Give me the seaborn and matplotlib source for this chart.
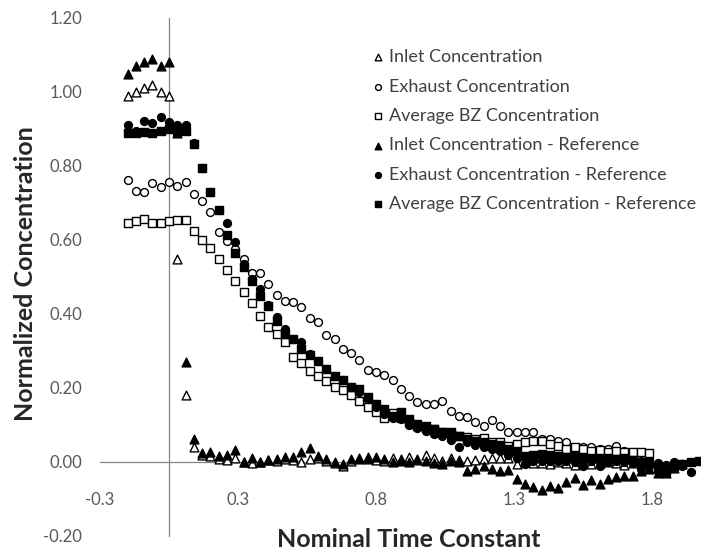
import numpy as np
import matplotlib
matplotlib.use("Agg")
import matplotlib.pyplot as plt
import seaborn as sns

# nominal time constant grid (one sample every 0.03)
time = np.round(-0.15 + 0.03 * np.arange(70), 2)

inlet = [0.99, 1.00, 1.01, 1.02, 1.00, 0.99, 0.55, 0.18,
         0.04, 0.02, 0.015, 0.008, 0.006, 0.01, 0.0, -0.002, 0.0, 0.006,
         0.004, 0.008, 0.005, 0.001, 0.008, 0.01, 0.004, -0.003, -0.012, 0.004,
         0.01, 0.014, 0.006, 0.004, 0.012, 0.008, 0.014, 0.006, 0.018, 0.012,
         0.004, 0.01, 0.006, 0.002, 0.005, 0.008, 0.012, 0.012, 0.012, -0.006,
         0.0, -0.004, -0.002, -0.006, 0.0, -0.004, -0.008, -0.002, -0.006, -0.004,
         0.0, -0.002, -0.008, -0.004, 0.004, 0.006]

exhaust = [0.763, 0.733, 0.731, 0.754, 0.742, 0.758, 0.745, 0.756,
           0.724, 0.705, 0.676, 0.622, 0.597, 0.575, 0.548, 0.511, 0.511, 0.48,
           0.452, 0.434, 0.433, 0.418, 0.388, 0.379, 0.343, 0.332, 0.305, 0.294,
           0.277, 0.25, 0.242, 0.235, 0.222, 0.197, 0.179, 0.161, 0.158, 0.158,
           0.166, 0.139, 0.125, 0.121, 0.109, 0.098, 0.114, 0.098, 0.082, 0.082,
           0.082, 0.082, 0.062, 0.061, 0.058, 0.053, 0.035, 0.04, 0.041, 0.035,
           0.035, 0.044, 0.031, 0.026, 0.023]

avg_bz = [0.645, 0.652, 0.657, 0.646, 0.646, 0.652, 0.655, 0.655,
          0.623, 0.600, 0.578, 0.549, 0.520, 0.488, 0.459, 0.430, 0.394, 0.364,
          0.346, 0.324, 0.284, 0.268, 0.247, 0.233, 0.220, 0.202, 0.195, 0.180,
          0.166, 0.150, 0.134, 0.120, 0.132, 0.120, 0.107, 0.098, 0.092, 0.088,
          0.080, 0.076, 0.071, 0.068, 0.062, 0.064, 0.055, 0.055, 0.044, 0.049,
          0.055, 0.058, 0.058, 0.050, 0.044, 0.035, 0.040, 0.035, 0.030, 0.032,
          0.028, 0.030, 0.028, 0.026, 0.026, 0.024]

inlet_ref = [1.05, 1.07, 1.08, 1.09, 1.07, 1.08, 0.89, 0.27,
             0.062, 0.024, 0.028, 0.017, 0.02, 0.033, 0.001, 0.01, 0.0, 0.006,
             0.007, 0.013, 0.013, 0.026, 0.037, 0.015, 0.007, 0.001, -0.005, 0.007,
             0.007, 0.007, 0.013, 0.007, 0.0, 0.003, 0.0, 0.008, 0.004, -0.002,
             -0.005, 0.004, 0.0, -0.023, -0.019, -0.01, -0.019, -0.023, -0.021, -0.046,
             -0.059, -0.068, -0.077, -0.064, -0.071, -0.055, -0.044, -0.062, -0.048, -0.059,
             -0.046, -0.041, -0.039, -0.039, -0.023, -0.02, -0.03, -0.03, -0.015, -0.005]

exhaust_ref = [0.911, 0.895, 0.922, 0.916, 0.932, 0.918, 0.911, 0.91,
               0.862, 0.794, 0.731, 0.682, 0.646, 0.594, 0.535, 0.495, 0.468, 0.423,
               0.392, 0.359, 0.332, 0.324, 0.292, 0.274, 0.251, 0.233, 0.222, 0.202,
               0.19, 0.17, 0.15, 0.13, 0.12, 0.115, 0.1, 0.092, 0.085, 0.075,
               0.07, 0.06, 0.04, 0.055, 0.045, 0.04, 0.035, 0.03, 0.02, 0.01,
               -0.005, 0.002, 0.003, 0.003, 0.004, 0.002, 0.0, -0.012, 0.004, -0.012,
               0.0, 0.002, 0.0, -0.002, -0.019, -0.012, -0.004, -0.008, 0.0, -0.01,
               -0.028]

avg_bz_ref = [0.89, 0.89, 0.893, 0.89, 0.895, 0.90, 0.895, 0.895,
              0.86, 0.795, 0.73, 0.68, 0.614, 0.565, 0.526, 0.49, 0.45, 0.422,
              0.38, 0.346, 0.332, 0.305, 0.289, 0.274, 0.251, 0.233, 0.222, 0.202,
              0.197, 0.175, 0.157, 0.143, 0.125, 0.134, 0.116, 0.103, 0.098, 0.089,
              0.08, 0.08, 0.071, 0.063, 0.058, 0.054, 0.049, 0.045, 0.035, 0.031,
              0.017, 0.02, 0.022, 0.02, 0.017, 0.013, 0.015, 0.012, 0.01, 0.008,
              0.01, 0.008, 0.012, 0.005, 0.0, 0.0, -0.019, -0.025, -0.01, -0.005,
              0.0, 0.002]

xtick_pos = [-0.25, 0.25, 0.75, 1.25, 1.75]
xtick_labels = ["-0.3", "0.3", "0.8", "1.3", "1.8"]
ytick_pos = [-0.2, 0.0, 0.2, 0.4, 0.6, 0.8, 1.0, 1.2]

sns.set_style("white")
plt.rcParams["font.family"] = ["Lato", "DejaVu Sans"]

fig = plt.figure(figsize=(7.01, 5.50), dpi=100)
ax = fig.add_axes([100 / 701, 14 / 550, 601 / 701, 518 / 550])

series = [
    ("Inlet Concentration", inlet, "^", "white", 40),
    ("Exhaust Concentration", exhaust, "o", "white", 32),
    ("Average BZ Concentration", avg_bz, "s", "white", 30),
    ("Inlet Concentration - Reference", inlet_ref, "^", "black", 40),
    ("Exhaust Concentration - Reference", exhaust_ref, "o", "black", 32),
    ("Average BZ Concentration - Reference", avg_bz_ref, "s", "black", 30),
]
for name, vals, mk, face, size in series:
    sns.scatterplot(x=time[:len(vals)], y=vals, ax=ax, marker=mk, s=size,
                    color=face, edgecolor="black", linewidth=1.0,
                    label=name, zorder=3, clip_on=False)

ax.set_xlim(-0.25, -0.25 + 601 / 276)
ax.set_ylim(-0.2, 1.2)

# Excel-like axes crossing at zero
for side in ["top", "right"]:
    ax.spines[side].set_visible(False)
ax.spines["left"].set_position(("data", 0))
ax.spines["bottom"].set_position(("data", 0))
for side in ["left", "bottom"]:
    ax.spines[side].set_color("#868686")
    ax.spines[side].set_linewidth(0.9)

ax.set_xticks(xtick_pos)
ax.set_xticklabels(xtick_labels)
ax.set_yticks(ytick_pos)
ax.set_yticklabels([f"{v:.2f}" for v in ytick_pos])
ax.tick_params(axis="y", direction="out", length=4.5, width=0.9, color="#868686",
               pad=58, labelsize=12, labelcolor="#595959")
ax.tick_params(axis="x", direction="out", length=4.5, width=0.9, color="#868686",
               pad=17, labelsize=12, labelcolor="#595959")

ax.set_xlabel("Nominal Time Constant", fontsize=18, fontweight="bold", va="baseline")
ax.xaxis.set_label_coords(0.513, -0.0207)
ax.set_ylabel("Normalized Concentration", fontsize=18, fontweight="bold", va="baseline")
ax.yaxis.set_label_coords(-0.1115, 0.506)

leg = ax.legend(loc="upper left", bbox_to_anchor=(0.4416, 0.9537), frameon=False,
                fontsize=13, markerscale=0.75, handlelength=0.6, handletextpad=0.3,
                labelspacing=0.74, borderaxespad=0)
for t in leg.get_texts():
    t.set_color("#404040")

fig.savefig("out.png", dpi=100)
